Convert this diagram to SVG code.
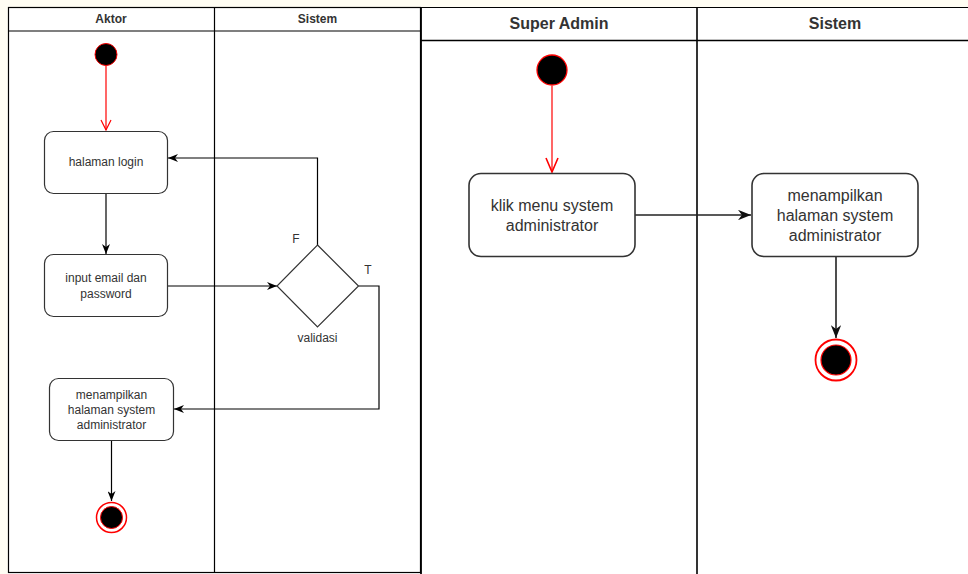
<svg xmlns="http://www.w3.org/2000/svg" width="968" height="574" viewBox="0 0 968 574">
<defs>
<style>
.frame{fill:none;stroke:#000;stroke-width:1.2}
.box{fill:#fff;stroke:#333;stroke-width:1.2}
.box2{fill:#fff;stroke:#333;stroke-width:1.6}
.t{font-family:"Liberation Sans",Arial,sans-serif;font-size:12px;fill:#333;text-anchor:middle}
.t2{font-family:"Liberation Sans",Arial,sans-serif;font-size:16px;fill:#333;text-anchor:middle}
.h{font-family:"Liberation Sans",Arial,sans-serif;font-size:12px;font-weight:bold;fill:#333;text-anchor:middle}
.h2{font-family:"Liberation Sans",Arial,sans-serif;font-size:16px;font-weight:bold;fill:#333;text-anchor:middle}
.c{fill:none;stroke:#000;stroke-width:1.2}
.c2{fill:none;stroke:#222;stroke-width:1.6}
.red{fill:none;stroke:#ff0000;stroke-width:1.2}
</style>
<marker id="a" markerUnits="userSpaceOnUse" viewBox="0 0 10 8" markerWidth="10" markerHeight="8" refX="10" refY="4" orient="auto">
<path d="M0,0 L10,4 L0,8 L3,4 Z" fill="#000"/>
</marker>
<marker id="a2" markerUnits="userSpaceOnUse" viewBox="0 0 10 8" markerWidth="13" markerHeight="10.4" refX="10" refY="4" orient="auto">
<path d="M0,0 L10,4 L0,8 L3,4 Z" fill="#111"/>
</marker>
<marker id="o" markerUnits="userSpaceOnUse" viewBox="0 0 12 12" markerWidth="12" markerHeight="12" refX="11" refY="6" orient="auto">
<path d="M1,1 L11,6 L1,11" fill="none" stroke="#ff0000" stroke-width="1.2"/>
</marker>
<marker id="o2" markerUnits="userSpaceOnUse" viewBox="0 0 16 14" markerWidth="16" markerHeight="14" refX="15" refY="7" orient="auto">
<path d="M1,1 L15,7 L1,13" fill="none" stroke="#ff0000" stroke-width="1.6"/>
</marker>
</defs>
<rect x="0" y="0" width="968" height="574" fill="#fffdf3"/>
<rect x="8" y="7" width="960" height="567" fill="#fff"/>

<g id="pool-left">
<rect class="frame" x="8.5" y="7.5" width="412" height="565"/>
<line class="frame" x1="8.5" y1="31" x2="420.5" y2="31"/>
<line class="frame" x1="214.5" y1="7.5" x2="214.5" y2="573"/>
<text class="h" x="111" y="23">Aktor</text>
<text class="h" x="317.5" y="23">Sistem</text>
</g>

<g id="pool-right">
<line x1="421" y1="7.5" x2="421" y2="574" stroke="#000" stroke-width="1.8"/>
<line x1="421" y1="7.5" x2="968" y2="7.5" stroke="#000" stroke-width="1.2"/>
<line x1="421" y1="40.5" x2="968" y2="40.5" stroke="#000" stroke-width="1.6"/>
<line x1="697" y1="7.5" x2="697" y2="574" stroke="#000" stroke-width="1.6"/>
<text class="h2" x="559" y="29">Super Admin</text>
<text class="h2" x="835" y="29">Sistem</text>
</g>

<g id="connectors">
<line class="red" x1="106" y1="66" x2="106" y2="130" marker-end="url(#o)"/>
<line class="c" x1="106" y1="193" x2="106" y2="254" marker-end="url(#a)"/>
<line class="c" x1="168" y1="286" x2="277" y2="286" marker-end="url(#a)"/>
<polyline class="c" points="317.5,245 317.5,158 168,158" marker-end="url(#a)"/>
<polyline class="c" points="358.5,286 379,286 379,409 174,409" marker-end="url(#a)"/>
<line class="c" x1="111.5" y1="440" x2="111.5" y2="501" marker-end="url(#a)"/>
<line class="red" x1="552" y1="86" x2="552" y2="172" stroke-width="1.6" marker-end="url(#o2)"/>
<line class="c2" x1="635" y1="215" x2="751" y2="215" marker-end="url(#a2)"/>
<line class="c2" x1="836" y1="257" x2="836" y2="338" marker-end="url(#a2)"/>
<text class="t" x="296" y="243">F</text>
<text class="t" x="368" y="274">T</text>
</g>

<g id="start1">
<circle cx="106" cy="54.5" r="11" fill="#000" stroke="#ff0000" stroke-width="1"/>
</g>
<g id="halaman-login">
<rect class="box" x="44.5" y="131.5" width="123" height="62" rx="9"/>
<text class="t" x="106" y="166">halaman login</text>
</g>
<g id="input-email">
<rect class="box" x="44.5" y="254.5" width="123" height="62" rx="9"/>
<text class="t" x="106" y="282">input email dan</text>
<text class="t" x="106" y="297.5">password</text>
</g>
<g id="validasi">
<polygon class="box" points="317.5,245 358.5,286 317.5,327 277,286"/>
<text class="t" x="317.5" y="342">validasi</text>
</g>
<g id="menampilkan1">
<rect class="box" x="49.5" y="378.5" width="124" height="62" rx="9"/>
<text class="t" x="111.5" y="398.5">menampilkan</text>
<text class="t" x="111.5" y="413.5">halaman system</text>
<text class="t" x="111.5" y="428.5">administrator</text>
</g>
<g id="end1">
<circle cx="111.5" cy="517.5" r="15" fill="#fff" stroke="#ff0000" stroke-width="1.5"/>
<circle cx="111.5" cy="517.5" r="11" fill="#000" stroke="#ff0000" stroke-width="1"/>
</g>

<g id="start2">
<circle cx="552" cy="70" r="15" fill="#000" stroke="#ff0000" stroke-width="1.3"/>
</g>
<g id="klik-menu">
<rect class="box2" x="469" y="173.5" width="166" height="83" rx="12"/>
<text class="t2" x="552" y="210.5">klik menu system</text>
<text class="t2" x="552" y="230.5">administrator</text>
</g>
<g id="menampilkan2">
<rect class="box2" x="752" y="173.5" width="166" height="83" rx="12"/>
<text class="t2" x="835" y="200.5">menampilkan</text>
<text class="t2" x="835" y="220.5">halaman system</text>
<text class="t2" x="835" y="240.5">administrator</text>
</g>
<g id="end2">
<circle cx="836" cy="360" r="20.5" fill="#fff" stroke="#ff0000" stroke-width="1.8"/>
<circle cx="836" cy="360" r="15" fill="#000" stroke="#ff0000" stroke-width="1.2"/>
</g>
</svg>
